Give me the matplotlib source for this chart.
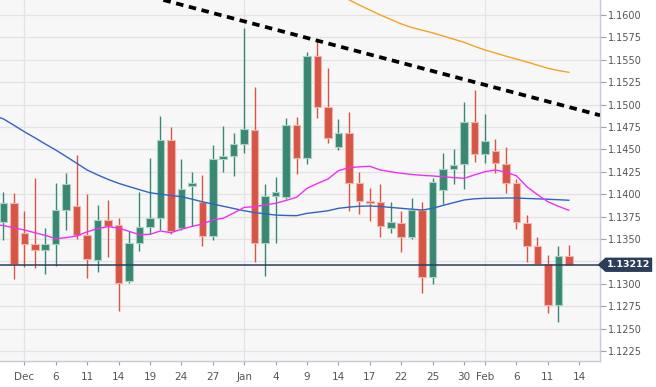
import matplotlib
matplotlib.use("Agg")
import matplotlib.pyplot as plt
from matplotlib.patches import Polygon
import numpy as np

#########################################
# Data
#########################################

# trading day index, 0 = Dec 3
day_idx = list(range(-2, 53))

opens = [1.13693, 1.13898, 1.13570, 1.13444, 1.13377, 1.13444, 1.13823, 1.13868, 1.13544, 1.13269,
         1.13712, 1.13652, 1.13031, 1.13452, 1.13634, 1.13731, 1.14601, 1.13626, 1.14094, 1.13916,
         1.13536, 1.14396, 1.14426, 1.14563, 1.14713, 1.13452, 1.13979, 1.13968, 1.14769, 1.14404,
         1.15542, 1.14976, 1.14530, 1.14686, 1.14128, 1.13924, 1.13909, 1.13622, 1.13681, 1.13522,
         1.13818, 1.13079, 1.14046, 1.14284, 1.14333, 1.14802, 1.14452, 1.14485, 1.14340, 1.14121,
         1.13678, 1.13421, 1.13220, 1.12763, 1.13313]
highs = [1.14021, 1.14010, 1.13812, 1.14184, 1.13619, 1.14125, 1.14236, 1.14437, 1.13998, 1.13876,
         1.13931, 1.13731, 1.13586, 1.14027, 1.14400, 1.14869, 1.14746, 1.14389, 1.14244, 1.14214,
         1.14545, 1.14766, 1.14679, 1.15851, 1.15193, 1.14113, 1.14188, 1.14850, 1.14858, 1.15583,
         1.15721, 1.15405, 1.14836, 1.14914, 1.14244, 1.14065, 1.14113, 1.13909, 1.13812, 1.13954,
         1.13918, 1.14177, 1.14456, 1.14507, 1.15025, 1.15159, 1.14891, 1.14612, 1.14526, 1.14169,
         1.13767, 1.13519, 1.13318, 1.13421, 1.13433]
lows = [1.13488, 1.13050, 1.13190, 1.13179, 1.13109, 1.13202, 1.13600, 1.13496, 1.13061, 1.13135,
        1.13302, 1.12693, 1.13012, 1.13366, 1.13559, 1.13600, 1.13552, 1.13600, 1.13648, 1.13425,
        1.13488, 1.14251, 1.14206, 1.14463, 1.13246, 1.13090, 1.13452, 1.13943, 1.14222, 1.14340,
        1.14847, 1.14574, 1.14496, 1.13815, 1.13775, 1.13697, 1.13525, 1.13563, 1.13351, 1.13503,
        1.12893, 1.12994, 1.13894, 1.14110, 1.14058, 1.14356, 1.14344, 1.14240, 1.14010, 1.13608,
        1.13240, 1.13220, 1.12670, 1.12570, 1.13205]
closes = [1.13898, 1.13217, 1.13444, 1.13377, 1.13444, 1.13823, 1.14113, 1.13548, 1.13276, 1.13708,
          1.13641, 1.13005, 1.13452, 1.13634, 1.13731, 1.14601, 1.13589, 1.14061, 1.14125, 1.13536,
          1.14396, 1.14426, 1.14560, 1.14724, 1.13452, 1.13979, 1.14027, 1.14769, 1.14404, 1.15542,
          1.14976, 1.14630, 1.14686, 1.14128, 1.13924, 1.13905, 1.13645, 1.13686, 1.13522, 1.13823,
          1.13079, 1.14139, 1.14281, 1.14329, 1.14802, 1.14448, 1.14593, 1.14344, 1.14128, 1.13686,
          1.13421, 1.13220, 1.12763, 1.13313, 1.13212]

# moving averages (index -3 .. 52)
ma_idx = list(range(-3, 53))
ma_blue = [1.14880, 1.14840, 1.14770, 1.14697, 1.14630, 1.14560, 1.14493, 1.14420, 1.14345, 1.14270,
           1.14215, 1.14165, 1.14121, 1.14085, 1.14050, 1.14016, 1.14000, 1.13985, 1.13972, 1.13945,
           1.13915, 1.13890, 1.13865, 1.13840, 1.13815, 1.13795, 1.13780, 1.13767, 1.13762, 1.13760,
           1.13786, 1.13800, 1.13815, 1.13842, 1.13855, 1.13865, 1.13868, 1.13862, 1.13852, 1.13842,
           1.13832, 1.13823, 1.13842, 1.13875, 1.13905, 1.13935, 1.13948, 1.13954, 1.13955, 1.13957,
           1.13957, 1.13952, 1.13948, 1.13943, 1.13938, 1.13932]
ma_pink = [1.13660, 1.13650, 1.13625, 1.13600, 1.13570, 1.13540, 1.13503, 1.13515, 1.13533, 1.13580,
           1.13615, 1.13637, 1.13622, 1.13585, 1.13548, 1.13552, 1.13589, 1.13570, 1.13608, 1.13640,
           1.13667, 1.13712, 1.13731, 1.13790, 1.13853, 1.13860, 1.13880, 1.13898, 1.13930, 1.13965,
           1.14065, 1.14120, 1.14169, 1.14262, 1.14295, 1.14305, 1.14311, 1.14270, 1.14250, 1.14233,
           1.14220, 1.14210, 1.14203, 1.14195, 1.14185, 1.14177, 1.14215, 1.14251, 1.14270, 1.14245,
           1.14205, 1.14083, 1.13995, 1.13916, 1.13865, 1.13820]

orange_idx = list(range(30, 53))
ma_orange = [1.16230, 1.16170, 1.16110, 1.16055, 1.16000, 1.15950, 1.15900, 1.15860, 1.15830, 1.15800,
             1.15765, 1.15730, 1.15695, 1.15650, 1.15609, 1.15575, 1.15540, 1.15508, 1.15475, 1.15440,
             1.15405, 1.15380, 1.15360]

# downtrend line, two points (day index, price)
trend_pts = [(18.7, 1.1600), (55.0, 1.1488)]

last_price = 1.13212

tick_pos = [0, 3, 6, 9, 12, 15, 18, 21, 24, 27, 30, 33, 36, 39, 42, 44, 47, 50, 53]
tick_lab = ["Dec", "6", "11", "14", "19", "24", "27", "Jan", "4", "9", "14", "17", "22",
            "25", "30", "Feb", "6", "11", "14"]
month_pos = [0, 21, 44]

y_ticks = np.arange(1.1225, 1.16001, 0.0025)

#########################################
# Plot
#########################################

GREEN = "#3a8773"
RED = "#d65646"
GREEN_EDGE = "#a8d2c4"
RED_EDGE = "#f2b3aa"

fig = plt.figure(figsize=(6.56, 3.87), dpi=100, facecolor="white")
ax = fig.add_axes([0, 26 / 387, 600 / 656, 361 / 387])
ax.set_facecolor("#f7f7f7")

ax.set_xlim(-2.32, 54.98)
ax.set_ylim(1.12138, 1.16167)

# grid
for yv in y_ticks:
    ax.axhline(yv, color="#e3e3e3", lw=0.9, zorder=0)
for xv in month_pos:
    ax.axvline(xv, color="#e3e3e3", lw=0.9, zorder=0)

# candles
o = np.array(opens)
c = np.array(closes)
up = c >= o
body_bottom = np.minimum(o, c)
body_h = np.maximum(np.abs(c - o), 0.00004)
x = np.array(day_idx)

ax.vlines(x[up], np.array(lows)[up], np.array(highs)[up], color=GREEN, lw=1.0, zorder=2)
ax.vlines(x[~up], np.array(lows)[~up], np.array(highs)[~up], color=RED, lw=1.0, zorder=2)
ax.bar(x[up], body_h[up], bottom=body_bottom[up], width=0.72, color=GREEN,
       edgecolor=GREEN_EDGE, linewidth=0.8, zorder=3)
ax.bar(x[~up], body_h[~up], bottom=body_bottom[~up], width=0.72, color=RED,
       edgecolor=RED_EDGE, linewidth=0.8, zorder=3)

# moving averages
ax.plot(ma_idx, ma_blue, color="#2f63c4", lw=1.0, zorder=4)
ax.plot(ma_idx, ma_pink, color="#f22ef2", lw=1.0, zorder=4)
ax.plot(orange_idx, ma_orange, color="#f5a31e", lw=1.0, zorder=4)

# trend line
ax.axline(trend_pts[0], trend_pts[1], color="black", lw=2.7,
          linestyle=(0, (2.0, 1.5)), zorder=5)

# last price line + tag
ax.axhline(last_price, color="#2b3d5b", lw=1.1, zorder=4)
trans = ax.get_yaxis_transform()
half = 0.0008
tag = Polygon([(0.996, last_price), (1.009, last_price + half), (1.087, last_price + half),
               (1.087, last_price - half), (1.009, last_price - half)],
              closed=True, transform=trans, facecolor="#2b3d5b", edgecolor="none",
              clip_on=False, zorder=6)
ax.add_patch(tag)
ax.text(1.048, last_price, f"{last_price:.5f}", transform=trans, color="white",
        fontsize=6.8, fontweight="bold", ha="center", va="center", clip_on=False, zorder=7)

# axes styling; the label under the price tag is hidden like in the original
ax.yaxis.tick_right()
ax.set_yticks(y_ticks)
ax.set_yticklabels(["" if abs(v - 1.1325) < 1e-6 else f"{v:.4f}" for v in y_ticks])
ax.set_xticks(tick_pos)
ax.set_xticklabels(tick_lab)
ax.tick_params(axis="y", length=4, width=0.8, color="#9aa0aa", labelsize=7,
               labelcolor="#555555", pad=2)
ax.tick_params(axis="x", length=3, width=0.8, color="#9aa0aa", labelsize=7.5,
               labelcolor="#555555", pad=5)
for side in ["top", "left"]:
    ax.spines[side].set_visible(False)
for side in ["right", "bottom"]:
    ax.spines[side].set_color("#c5cad6")
    ax.spines[side].set_linewidth(1.0)

fig.savefig("out.png", dpi=100, facecolor="white")
